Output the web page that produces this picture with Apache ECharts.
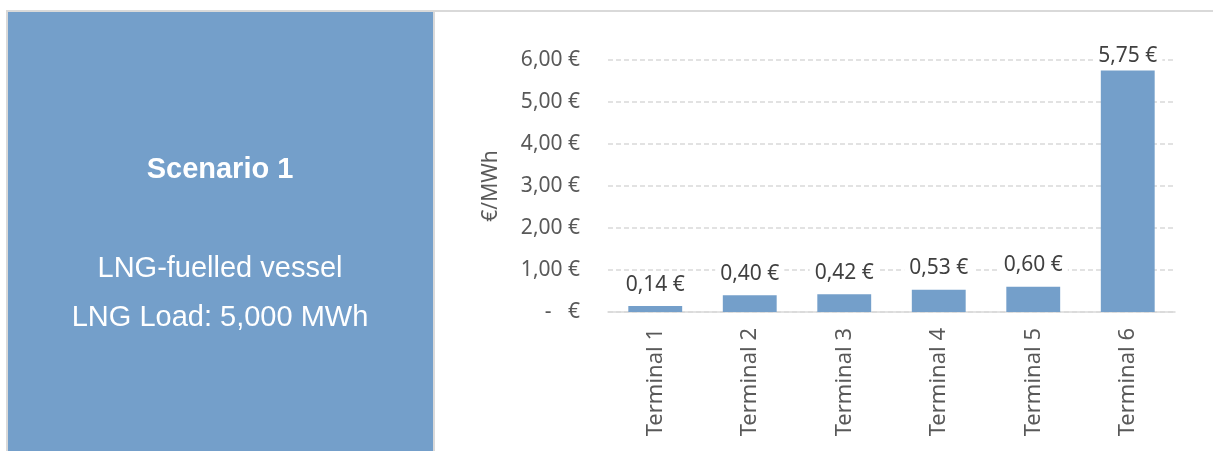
<!DOCTYPE html>
<html>
<head>
<meta charset="utf-8">
<script src="https://cdn.jsdelivr.net/npm/echarts@6/dist/echarts.min.js"></script>
<style>
html,body{margin:0;padding:0;background:#fff;}
#c{width:1213px;height:451px;}
</style>
</head>
<body>
<div id="c"></div>
<script>
const categories = ['Terminal 1','Terminal 2','Terminal 3','Terminal 4','Terminal 5','Terminal 6'];
const costValues = [0.14, 0.40, 0.42, 0.53, 0.60, 5.75];
const yTicks = {min: 0, max: 6, interval: 1};
const axisName = '€/MWh';
const panelTitle = 'Scenario 1';
const panelLines = ['LNG-fuelled vessel', 'LNG Load: 5,000 MWh'];

function eur(v){
  if (Math.abs(v) < 1e-9) return '-   €';
  return v.toFixed(2).replace('.', ',') + ' €';
}

const chart = echarts.init(document.getElementById('c'));
const font = '"Noto Sans", "Open Sans", sans-serif';
const panelFont = '"Liberation Sans", Arial, sans-serif';
const barData = costValues.map((v, i) => i === costValues.length - 1
  ? {value: v, label: {distance: 4}}
  : v);

chart.setOption({
  backgroundColor: '#ffffff',
  animation: false,
  graphic: [
    {type:'rect', shape:{x:6,y:10,width:1207,height:2}, style:{fill:'#d9d9d9'}, silent:true},
    {type:'rect', shape:{x:6,y:10,width:2,height:441}, style:{fill:'#d9d9d9'}, silent:true},
    {type:'rect', shape:{x:433,y:10,width:2,height:441}, style:{fill:'#d9d9d9'}, silent:true},
    {type:'rect', shape:{x:8,y:12,width:425,height:439}, style:{fill:'#749FCA'}, silent:true},
    {type:'text', x:220, y:170, style:{text:panelTitle, fill:'#ffffff', font:'bold 29px ' + panelFont, textAlign:'center', textVerticalAlign:'middle'}},
    {type:'text', x:220, y:269, style:{text:panelLines[0], fill:'#ffffff', font:'29px ' + panelFont, textAlign:'center', textVerticalAlign:'middle'}},
    {type:'text', x:220, y:318, style:{text:panelLines[1], fill:'#ffffff', font:'29px ' + panelFont, textAlign:'center', textVerticalAlign:'middle'}}
  ],
  grid: {left: 608, right: 38, top: 60, bottom: 139, containLabel: false},
  xAxis: {
    type: 'category',
    data: categories,
    axisLine: {show: true, lineStyle: {color: '#d9d9d9', width: 1.5}},
    axisTick: {show: false},
    axisLabel: {rotate: 90, margin: 16, color: '#595959', fontSize: 22, fontFamily: font}
  },
  yAxis: {
    type: 'value',
    min: yTicks.min, max: yTicks.max, interval: yTicks.interval,
    name: axisName,
    nameLocation: 'middle',
    nameGap: 106,
    nameRotate: 90,
    nameTextStyle: {color: '#595959', fontSize: 21, fontFamily: font},
    axisLine: {show: false},
    axisTick: {show: false},
    splitLine: {show: true, lineStyle: {color: '#d9d9d9', type: [5, 3], width: 1.5}},
    axisLabel: {margin: 28, color: '#595959', fontSize: 21, fontFamily: font, formatter: eur}
  },
  series: [{
    type: 'bar',
    data: barData,
    barWidth: '57%',
    itemStyle: {color: '#749FCA'},
    label: {
      show: true, position: 'top', distance: 11,
      color: '#404040', fontSize: 21, fontFamily: font,
      backgroundColor: '#ffffff', padding: [0, 5],
      formatter: p => eur(p.value)
    }
  }]
});
</script>
</body>
</html>
